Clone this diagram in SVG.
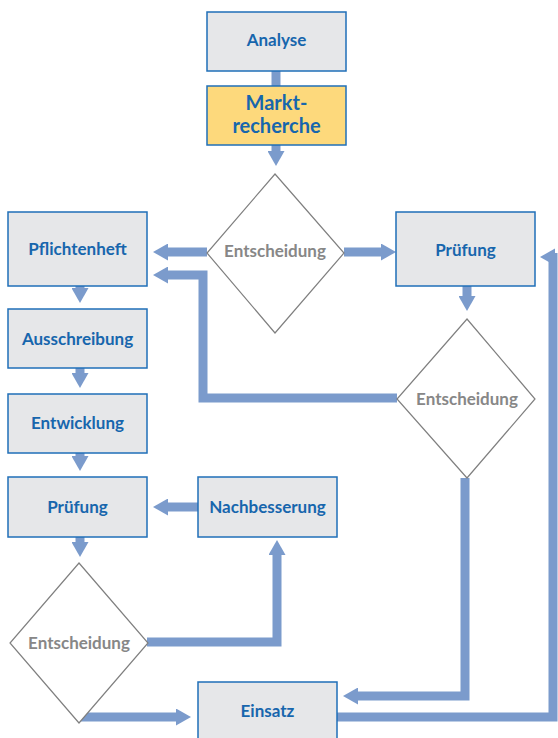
<svg xmlns="http://www.w3.org/2000/svg" width="558" height="738" viewBox="0 0 558 738">
<defs>
<style>
.box{fill:#e6e7e9;stroke:#1f6fb8;stroke-width:1.5}
.yel{fill:#fdd97c;stroke:#1f6fb8;stroke-width:1.5}
.dia{fill:#ffffff;stroke:#7f7f7f;stroke-width:1.2}
.bt{font-family:Lato,"Open Sans",sans-serif;font-weight:bold;font-size:17px;fill:#1766ad;text-anchor:middle}
.big{font-size:20px}
.dt{font-family:Lato,"Open Sans",sans-serif;font-weight:bold;font-size:17px;fill:#878787;text-anchor:middle}
.c{fill:none;stroke:#7b9bcc;stroke-width:9;stroke-linejoin:miter}
.h{fill:#7b9bcc}
</style>
<marker id="ah" markerUnits="userSpaceOnUse" markerWidth="15" markerHeight="17" viewBox="0 0 15 17" refX="0" refY="8.5" orient="auto">
<path d="M0,0 L15,8.5 L0,17 Z" fill="#7b9bcc"/>
</marker>
</defs>
<g id="connectors">
<line class="c" x1="276" y1="71" x2="276" y2="86"/>
<line class="c" x1="276" y1="145" x2="276" y2="151" marker-end="url(#ah)"/>
<line class="c" x1="207" y1="252" x2="168" y2="252" marker-end="url(#ah)"/>
<line class="c" x1="344" y1="252" x2="381" y2="252" marker-end="url(#ah)"/>
<line class="c" x1="467" y1="286" x2="467" y2="296" marker-end="url(#ah)"/>
<path class="c" d="M397,398 L203,398 L203,275 L168,275" marker-end="url(#ah)"/>
<path class="c" d="M465,478 L465,696 L358,696" marker-end="url(#ah)"/>
<path class="c" d="M337,717 L553,717 L553,253"/>
<polygon class="h" points="540,257 555,248.5 555,265.5"/>
<line class="c" x1="80" y1="286" x2="80" y2="288" marker-end="url(#ah)"/>
<line class="c" x1="80" y1="368" x2="80" y2="373" marker-end="url(#ah)"/>
<line class="c" x1="80" y1="453" x2="80" y2="456" marker-end="url(#ah)"/>
<line class="c" x1="80" y1="537" x2="80" y2="542" marker-end="url(#ah)"/>
<line class="c" x1="198" y1="507" x2="168" y2="507" marker-end="url(#ah)"/>
<path class="c" d="M147,642 L277,642 L277,555" marker-end="url(#ah)"/>
<line class="c" x1="80" y1="717" x2="176" y2="717" marker-end="url(#ah)"/>
</g>
<g id="analyse"><rect class="box" x="207" y="12" width="139" height="59"/><text class="bt" x="276.5" y="46">Analyse</text></g>
<g id="marktrecherche"><rect class="yel" x="207" y="86" width="139" height="59"/><text class="bt big" x="276.5" y="110">Markt-</text><text class="bt big" x="276.5" y="133">recherche</text></g>
<g id="entscheidung1"><polygon class="dia" points="275,174 344,253 275,333 207,253"/><text class="dt" x="275" y="257">Entscheidung</text></g>
<g id="pflichtenheft"><rect class="box" x="8" y="212" width="139" height="74"/><text class="bt" x="77.5" y="255">Pflichtenheft</text></g>
<g id="pruefung-rechts"><rect class="box" x="396" y="212" width="139" height="74"/><text class="bt" x="465.5" y="256">Prüfung</text></g>
<g id="entscheidung2"><polygon class="dia" points="467,319 535,399 467,478 397,399"/><text class="dt" x="467" y="405">Entscheidung</text></g>
<g id="ausschreibung"><rect class="box" x="8" y="309" width="139" height="59"/><text class="bt" x="77.5" y="345">Ausschreibung</text></g>
<g id="entwicklung"><rect class="box" x="8" y="394" width="139" height="59"/><text class="bt" x="77.5" y="429">Entwicklung</text></g>
<g id="pruefung-links"><rect class="box" x="8" y="477" width="139" height="60"/><text class="bt" x="77.5" y="513">Prüfung</text></g>
<g id="nachbesserung"><rect class="box" x="198" y="477" width="139" height="60"/><text class="bt" x="267.5" y="513">Nachbesserung</text></g>
<g id="entscheidung3"><polygon class="dia" points="79,563 148,643 79,723 10,643"/><text class="dt" x="79" y="649">Entscheidung</text></g>
<g id="einsatz"><rect class="box" x="198" y="682" width="139" height="60"/><text class="bt" x="267.5" y="717">Einsatz</text></g>
</svg>
